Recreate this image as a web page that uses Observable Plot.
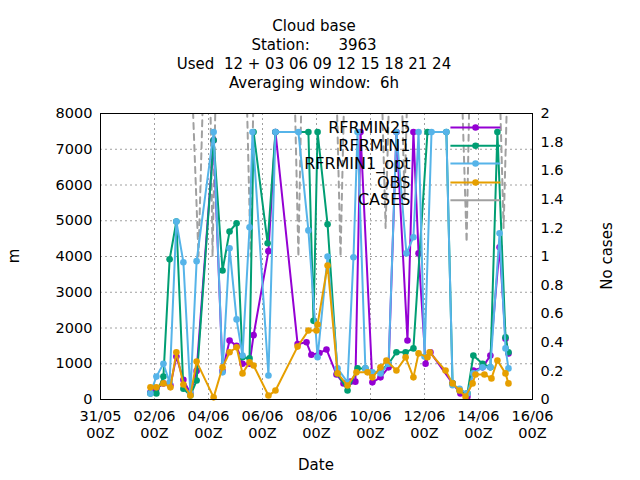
<!DOCTYPE html>
<html><head><meta charset="utf-8">
<script src="https://cdn.jsdelivr.net/npm/d3@7"></script>
<script src="https://cdn.jsdelivr.net/npm/@observablehq/plot@0.6"></script>
<style>
body{margin:0;background:#fff;font-family:"DejaVu Sans",sans-serif;}
#title{height:105px;box-sizing:border-box;padding-top:17px;width:628px;text-align:center;font-size:15px;line-height:19px;white-space:pre;}
</style></head><body>
<div id="title"></div>
<div id="chart"></div>
<script>
const titleLines = ["Cloud base", "Station:      3963", "Used  12 + 03 06 09 12 15 18 21 24", "Averaging window:  6h"];
const xTicks = [0,2,4,6,8,10,12,14,16];
const yTicks = [0,1000,2000,3000,4000,5000,6000,7000,8000];
const y2Ticks = [0,0.2,0.4,0.6,0.8,1,1.2,1.4,1.6,1.8,2];

const r25T = [1.85,2.07,2.33,2.59,2.81,3.07,3.33,3.56,4.19,4.52,4.78,5.04,5.26,5.52,5.67,6.22,6.48,7.30,7.63,7.81,8.11,8.37,8.74,9.00,9.26,9.44,9.63,10.07,10.37,10.67,10.96,11.37,11.59,11.78,12.04,12.22,13.04,13.33,13.59,13.81,14.15,14.44,14.78,15.0,15.11];
const r25V = [200,300,450,400,1200,550,170,800,7250,800,1650,1500,1000,1000,1800,4150,7480,1550,1600,1250,1300,1400,700,450,500,500,7480,480,620,900,7480,1650,7480,4090,1000,1320,450,170,80,810,900,1230,4260,1700,1290];

const r1T = [1.85,2.07,2.33,2.56,2.81,3.07,3.33,3.56,4.19,4.52,4.78,5.04,5.26,5.52,5.67,6.19,6.48,7.70,7.89,8.04,8.41,8.78,9.15,9.52,9.81,10.07,10.37,10.67,10.96,11.30,11.59,12.11,12.81,13.04,13.30,13.59,13.81,14.15,14.44,14.70,15.0,15.11];
const r1V = [170,170,640,3920,4980,300,110,530,7250,3610,4700,4930,1180,1150,7480,4370,7480,7480,2200,7480,4900,730,250,870,870,730,800,1000,1320,1320,1430,7480,7480,450,250,170,1230,1000,900,7480,1740,1320];

const optT = [1.85,2.07,2.33,2.56,2.81,3.07,3.33,3.56,4.19,4.52,4.78,5.04,5.26,5.52,5.63,6.22,6.48,7.33,7.70,8.04,8.41,8.78,9.15,9.37,9.52,9.81,10.07,10.37,10.67,10.96,11.33,11.59,11.78,12.0,12.26,12.81,13.04,13.30,13.59,13.81,14.15,14.44,14.78,15.0,15.11];
const optV = [170,640,1000,480,4980,3840,170,3870,7480,760,4230,2240,1230,4820,7480,670,7480,7480,4730,1180,4000,870,480,3980,7480,870,760,730,1000,7480,4090,4540,7480,1200,7480,7480,400,300,170,730,900,900,4650,1430,870];

const obsT = [1.85,2.07,2.33,2.59,2.81,3.07,3.33,3.56,4.19,4.52,4.78,5.04,5.26,5.52,5.67,6.22,6.48,7.30,7.70,8.00,8.04,8.41,8.78,9.15,9.48,9.89,10.07,10.37,10.59,10.96,11.30,11.59,11.78,12.11,12.19,12.78,13.04,13.30,13.52,13.78,13.89,14.22,14.48,14.70,15.0,15.11];
const obsV = [340,340,450,340,1320,420,110,1060,60,900,1320,1460,730,1040,950,110,250,1480,1930,1930,2100,3750,730,390,760,760,620,900,1090,810,1180,620,1290,1180,1320,810,450,250,80,450,700,700,590,1090,730,450];

const casesT = [1.85,3.33,3.63,3.85,4.04,4.15,4.30,5.37,5.56,5.70,7.15,7.33,7.48,8.70,8.89,9.07,10.37,10.56,10.74,11.11,11.26,11.41,13.33,13.56,13.70,14.74,14.93,15.11];
const casesV = [2.5,2.5,1,2.5,2.5,1,2.5,2.5,1,2.5,2.5,1,2.5,2.5,1,2.5,2.5,1.2,2.5,2.5,1.4,2.5,2.5,1.1,2.5,2.5,1.2,2.5];

const names = ["RFRMIN25","RFRMIN1","RFRMIN1_opt","OBS","CASES"];
const colors = ["#9400d3","#009e73","#56b4e9","#e69f00","#a0a0a0"];

document.getElementById("title").textContent = titleLines.join("\n");

const zip = (T,V,s)=>T.map((t,i)=>({t, v:V[i], s}));
const series = [zip(r25T,r25V,0), zip(r1T,r1V,1), zip(optT,optV,2), zip(obsT,obsV,3)];
const cases = zip(casesT, casesV.map(c=>c*4000), 4);

const base = Date.UTC(2021,4,31);
const fmt = d3.utcFormat("%d/%m");
const xLab = d => fmt(new Date(base + d*86400000)) + "\n00Z";

const legY = [7610,7100,6600,6070,5570];
const legend = names.map((n,i)=>({n, i, y:legY[i]}));

const marks = [
  Plot.ruleY(yTicks.slice(1,-1), {stroke:"#a0a0a0", strokeDasharray:"2,3", strokeWidth:1}),
  Plot.ruleX(xTicks.slice(1,-1), {stroke:"#a0a0a0", strokeDasharray:"2,3", strokeWidth:1}),
  Plot.line(cases, {x:"t", y:"v", stroke:colors[4], strokeWidth:2, strokeDasharray:"6,5", clip:true}),
];
series.forEach((d,i)=>{
  marks.push(Plot.line(d, {x:"t", y:"v", stroke:colors[i], strokeWidth:2}));
  marks.push(Plot.dot(d, {x:"t", y:"v", fill:colors[i], r:3.3}));
});
marks.push(
  Plot.text(legend, {x:11.48, y:"y", text:"n", textAnchor:"end", fontSize:16, fill:"black"}),
  Plot.link(legend, {x1:12.96, x2:14.81, y1:"y", y2:"y", stroke:d=>colors[d.i], strokeWidth:2, strokeDasharray:d=>d.i===4?"6,5":null}),
  Plot.dot(legend.filter(d=>d.i<4), {x:13.89, y:"y", fill:d=>colors[d.i], r:3.3}),
  Plot.frame({stroke:"black", strokeWidth:1}),
  Plot.axisX({ticks:xTicks, tickFormat:xLab, tickSize:0, tickPadding:10, fontSize:14.5, lineHeight:1.15, label:null}),
  Plot.axisY({ticks:yTicks, tickFormat:d3.format("d"), tickSize:0, tickPadding:8, fontSize:14.5, label:null}),
  Plot.axisY({anchor:"right", ticks:y2Ticks.map(v=>v*4000), tickFormat:v=>String(+(v/4000).toFixed(1)), tickSize:0, tickPadding:8, fontSize:14.5, label:null})
);

const chart = Plot.plot({
  width:640, height:375,
  marginLeft:100, marginRight:108, marginTop:8, marginBottom:81,
  style:{fontFamily:"DejaVu Sans, sans-serif", fontSize:"14px", color:"black", overflow:"visible"},
  x:{domain:[0,16]},
  y:{domain:[0,8000]},
  marks
});
document.getElementById("chart").appendChild(chart);
const svg = d3.select(chart);
const addText = (x,y,t,rot)=>svg.append("text").attr("x",x).attr("y",y).attr("text-anchor","middle")
  .attr("font-size",15).attr("fill","black").attr("transform", rot?`rotate(-90 ${x} ${y})`:null).text(t);
addText(316,365,"Date",false);
addText(19,151,"m",true);
addText(612,151,"No cases",true);
</script></body></html>
